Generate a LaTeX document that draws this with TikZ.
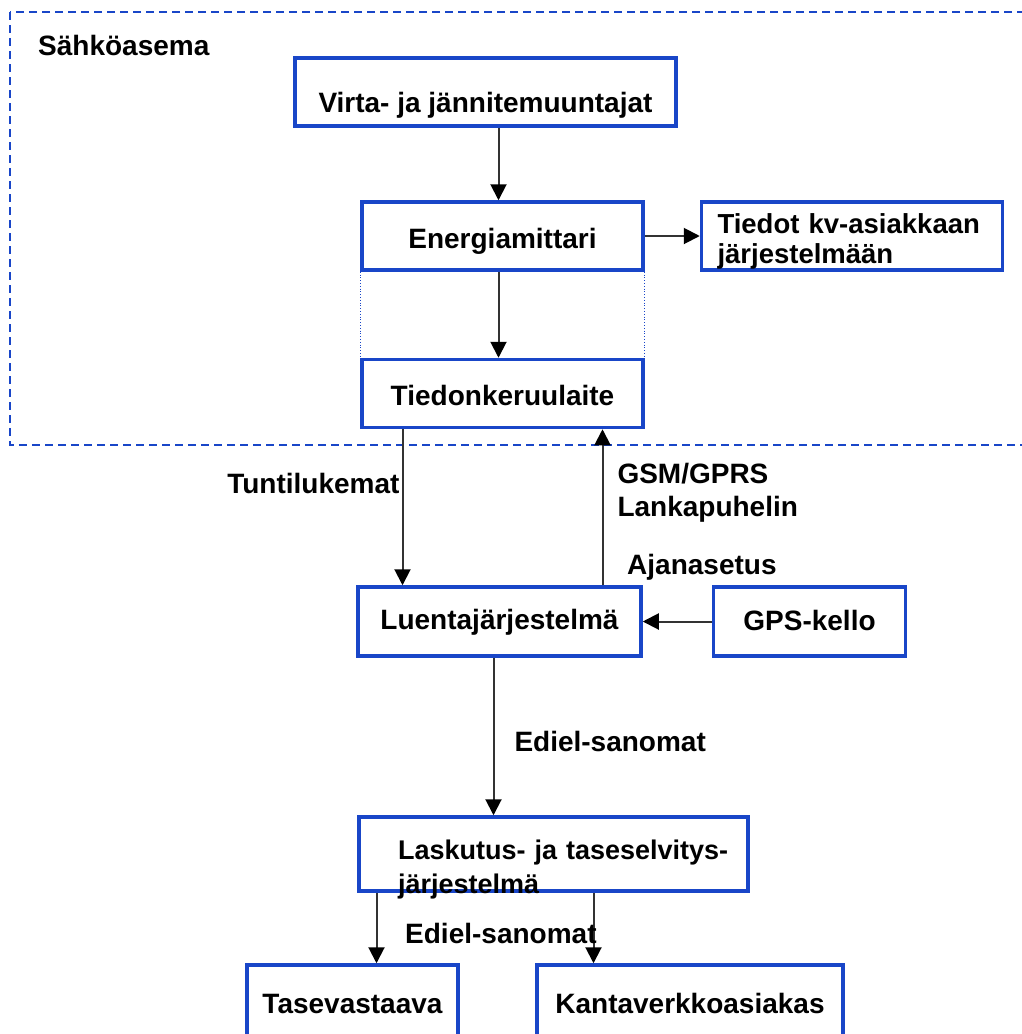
\documentclass[tikz,border=0pt]{standalone}
\usepackage{fontspec}
\setmainfont{Liberation Sans}
\usetikzlibrary{positioning, arrows.meta}
\definecolor{boxblue}{RGB}{25,70,200}

\begin{document}
\begin{tikzpicture}[x=1pt, y=-1pt, >={Triangle[length=16pt, width=16pt, color=black]},
    box/.style={draw=boxblue, line width=3.5pt, minimum height=68pt, inner sep=0pt,
      font=\fontsize{28}{32}\selectfont\bfseries, text height=30pt, text depth=6pt},
    lbl/.style={font=\fontsize{28}{33}\selectfont\bfseries, inner sep=2pt},
    flow/.style={->, line width=2pt, draw=black!80},
    area/.style={draw=boxblue, line width=1.4pt, dash pattern=on 8pt off 5pt},
    guide/.style={draw=boxblue, line width=0.8pt, dotted}]
  \useasboundingbox (0,0) rectangle (1021,1034);
  % substation frame
  \draw[area] (10,12) rectangle (1040,445);
  \node[lbl, anchor=west] (asema) at (36,45) {Sähköasema};
  \node[box, minimum width=381pt, text height=46pt] (vjm) at (485.5,92) {Virta- ja jännitemuuntajat};
  \node[box, minimum width=281pt] (em) at (502.5,236) {Energiamittari};
  \node[box, minimum width=301pt, inner xsep=16pt, text width=269pt, align=left,
        text height=20pt, text depth=26pt, font=\fontsize{27.5}{30}\selectfont\bfseries,
        right=55pt of em] (kv) {Tiedot kv-asiakkaan\\järjestelmään};
  \node[box, minimum width=281pt, below=86pt of em] (tk) {Tiedonkeruulaite};
  % reading system
  \node[box, minimum width=283pt, minimum height=69pt, text height=22pt] (luenta) at (499.5,621.5) {Luentajärjestelmä};
  \node[box, minimum width=192pt, minimum height=69pt, text height=24pt, right=69pt of luenta] (gps) {GPS-kello};
  \node[box, minimum width=389pt, minimum height=74pt, inner xsep=39pt, text width=311pt,
        align=left, text height=30pt, text depth=20pt,
        font=\fontsize{27}{34}\selectfont\bfseries] (lask) at (553.5,854)
        {\mbox{Laskutus- ja taseselvitys-}\\järjestelmä};
  \node[box, minimum width=211pt, minimum height=76pt, text height=26pt] (tase) at (352.5,1003) {Tasevastaava};
  \node[box, minimum width=306pt, minimum height=76pt, text height=26pt] (kanta) at (690,1003) {Kantaverkkoasiakas};
  \draw[guide] (em.south west) -- (tk.north west);
  \draw[guide] (em.south east) -- (tk.north east);
  \draw[flow] ([xshift=-4pt]em.north |- vjm.south) -- ([xshift=-4pt]em.north);
  \draw[flow] (em) -- (kv);
  \draw[flow] ([xshift=-4pt]em.south) -- ([xshift=-4pt]tk.north);
  \draw[flow] ([xshift=-100pt]tk.south) -- node[lbl, left, pos=0.35] {Tuntilukemat}
    ([xshift=-100pt]tk.south |- luenta.north);
  \draw[flow] ([xshift=100pt]tk.south |- luenta.north) -- node[lbl, right=12pt, align=left, pos=0.59]
    {GSM/GPRS\\Lankapuhelin} ([xshift=100pt]tk.south);
  \node[lbl, anchor=west] (ajan) at (625,567) {Ajanasetus};
  \draw[flow] (gps) -- (luenta);
  \draw[flow] ([xshift=-6pt]luenta.south) -- node[lbl, right=18pt, pos=0.53] {Ediel-sanomat}
    ([xshift=-6pt]luenta.south |- lask.north);
  \draw[flow] ([xshift=-177pt]lask.south) -- ([xshift=-177pt]lask.south |- tase.north);
  \draw[flow] ([xshift=40pt]lask.south) -- ([xshift=40pt]lask.south |- kanta.north);
  \node[lbl, anchor=west] (ediel) at (403,933) {Ediel-sanomat};
\end{tikzpicture}
\end{document}
